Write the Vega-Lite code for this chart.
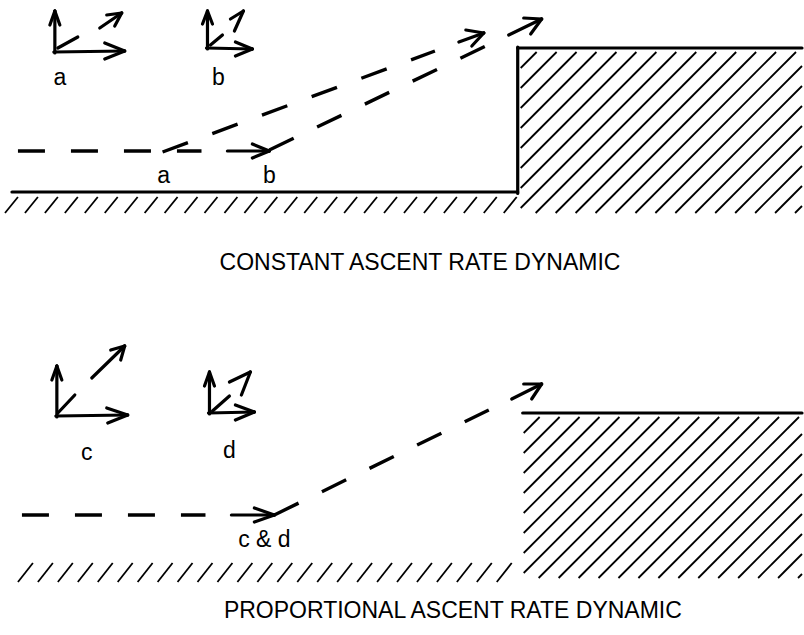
{
"$schema":"https://vega.github.io/schema/vega-lite/v6.json",
"width":804,"height":635,
"autosize":{"type":"fit","contains":"padding"},
"padding":0,
"background":"white",
"config":{"view":{"stroke":null}},
"datasets":{
"solid":[
{"x":12,"y":192,"x2":519,"y2":192},
{"x":519,"y":193.5,"x2":519,"y2":47},
{"x":519,"y":48,"x2":804,"y2":48},
{"x":524,"y":413,"x2":804,"y2":413},
{"x":55,"y":53,"x2":55,"y2":11},
{"x":50,"y":25,"x2":55,"y2":11},
{"x":60,"y":25,"x2":55,"y2":11},
{"x":54,"y":52,"x2":125,"y2":51},
{"x":105,"y":43,"x2":125,"y2":51},
{"x":105,"y":59,"x2":125,"y2":51},
{"x":58,"y":48,"x2":78,"y2":37},
{"x":100,"y":28,"x2":122,"y2":13},
{"x":107,"y":15,"x2":122,"y2":13},
{"x":115,"y":26,"x2":122,"y2":13},
{"x":208,"y":49,"x2":208,"y2":11},
{"x":203,"y":24,"x2":208,"y2":11},
{"x":213,"y":24,"x2":208,"y2":11},
{"x":207,"y":48,"x2":253,"y2":49},
{"x":236,"y":42,"x2":253,"y2":49},
{"x":236,"y":56,"x2":253,"y2":49},
{"x":211,"y":45,"x2":223,"y2":35},
{"x":235,"y":31,"x2":244,"y2":11},
{"x":231,"y":19,"x2":244,"y2":11},
{"x":57,"y":417,"x2":57,"y2":366},
{"x":52,"y":380,"x2":57,"y2":366},
{"x":62,"y":380,"x2":57,"y2":366},
{"x":56,"y":416,"x2":128,"y2":415},
{"x":107,"y":408,"x2":128,"y2":415},
{"x":108,"y":423,"x2":128,"y2":415},
{"x":58,"y":413,"x2":75,"y2":395},
{"x":92,"y":378,"x2":125,"y2":346},
{"x":111,"y":350,"x2":125,"y2":346},
{"x":121,"y":360,"x2":125,"y2":346},
{"x":210,"y":414,"x2":210,"y2":372},
{"x":205,"y":386,"x2":210,"y2":372},
{"x":215,"y":386,"x2":210,"y2":372},
{"x":209,"y":413,"x2":255,"y2":412},
{"x":236,"y":405,"x2":255,"y2":412},
{"x":236,"y":420,"x2":255,"y2":412},
{"x":213,"y":411,"x2":230,"y2":396},
{"x":242,"y":395,"x2":251,"y2":372},
{"x":230,"y":382,"x2":251,"y2":372},
{"x":228,"y":151,"x2":270,"y2":151},
{"x":253,"y":144,"x2":270,"y2":151},
{"x":253,"y":158,"x2":270,"y2":151},
{"x":232,"y":515,"x2":275,"y2":515},
{"x":255,"y":508,"x2":275,"y2":515},
{"x":255,"y":522,"x2":275,"y2":515},
{"x":460,"y":42,"x2":485,"y2":33},
{"x":467,"y":30,"x2":485,"y2":33},
{"x":473,"y":46,"x2":485,"y2":33},
{"x":510,"y":35,"x2":543,"y2":19},
{"x":525,"y":18,"x2":543,"y2":19},
{"x":532,"y":34,"x2":543,"y2":19},
{"x":513,"y":399,"x2":543,"y2":384},
{"x":525,"y":384,"x2":543,"y2":384},
{"x":533,"y":399,"x2":543,"y2":384}
],
"dashed":[
{"x":18,"y":151,"x2":202,"y2":151},
{"x":163,"y":152,"x2":436,"y2":51},
{"x":270,"y":150,"x2":487,"y2":46},
{"x":22,"y":515,"x2":206,"y2":515},
{"x":275,"y":515,"x2":490,"y2":410}
],
"hatch":[
{"x":5,"y":213,"x2":18,"y2":197},{"x":25,"y":213,"x2":38,"y2":197},{"x":45,"y":213,"x2":58,"y2":197},{"x":65,"y":213,"x2":78,"y2":197},
{"x":85,"y":213,"x2":98,"y2":197},{"x":105,"y":213,"x2":118,"y2":197},{"x":125,"y":213,"x2":138,"y2":197},{"x":145,"y":213,"x2":158,"y2":197},
{"x":165,"y":213,"x2":178,"y2":197},{"x":185,"y":213,"x2":198,"y2":197},{"x":205,"y":213,"x2":218,"y2":197},{"x":225,"y":213,"x2":238,"y2":197},
{"x":245,"y":213,"x2":258,"y2":197},{"x":265,"y":213,"x2":278,"y2":197},{"x":285,"y":213,"x2":298,"y2":197},{"x":305,"y":213,"x2":318,"y2":197},
{"x":325,"y":213,"x2":338,"y2":197},{"x":345,"y":213,"x2":358,"y2":197},{"x":365,"y":213,"x2":378,"y2":197},{"x":385,"y":213,"x2":398,"y2":197},
{"x":405,"y":213,"x2":418,"y2":197},{"x":425,"y":213,"x2":438,"y2":197},{"x":445,"y":213,"x2":458,"y2":197},{"x":465,"y":213,"x2":478,"y2":197},
{"x":485,"y":213,"x2":498,"y2":197},{"x":505,"y":213,"x2":518,"y2":197},
{"x":522,"y":68,"x2":538,"y2":52},{"x":522,"y":88,"x2":558,"y2":52},{"x":522,"y":108,"x2":578,"y2":52},{"x":522,"y":128,"x2":598,"y2":52},
{"x":522,"y":148,"x2":618,"y2":52},{"x":522,"y":168,"x2":638,"y2":52},{"x":522,"y":188,"x2":658,"y2":52},{"x":522,"y":208,"x2":678,"y2":52},
{"x":537,"y":213,"x2":698,"y2":52},{"x":557,"y":213,"x2":718,"y2":52},{"x":577,"y":213,"x2":738,"y2":52},{"x":597,"y":213,"x2":758,"y2":52},
{"x":617,"y":213,"x2":778,"y2":52},{"x":637,"y":213,"x2":798,"y2":52},{"x":657,"y":213,"x2":804,"y2":66},{"x":677,"y":213,"x2":804,"y2":86},
{"x":697,"y":213,"x2":804,"y2":106},{"x":717,"y":213,"x2":804,"y2":126},{"x":737,"y":213,"x2":804,"y2":146},{"x":757,"y":213,"x2":804,"y2":166},
{"x":777,"y":213,"x2":804,"y2":186},{"x":797,"y":213,"x2":804,"y2":206},
{"x":18,"y":582,"x2":33,"y2":563},{"x":38,"y":582,"x2":53,"y2":563},{"x":58,"y":582,"x2":73,"y2":563},{"x":78,"y":582,"x2":93,"y2":563},
{"x":98,"y":582,"x2":113,"y2":563},{"x":118,"y":582,"x2":133,"y2":563},{"x":138,"y":582,"x2":153,"y2":563},{"x":158,"y":582,"x2":173,"y2":563},
{"x":178,"y":582,"x2":193,"y2":563},{"x":198,"y":582,"x2":213,"y2":563},{"x":218,"y":582,"x2":233,"y2":563},{"x":238,"y":582,"x2":253,"y2":563},
{"x":258,"y":582,"x2":273,"y2":563},{"x":278,"y":582,"x2":293,"y2":563},{"x":298,"y":582,"x2":313,"y2":563},{"x":318,"y":582,"x2":333,"y2":563},
{"x":338,"y":582,"x2":353,"y2":563},{"x":358,"y":582,"x2":373,"y2":563},{"x":378,"y":582,"x2":393,"y2":563},{"x":398,"y":582,"x2":413,"y2":563},
{"x":418,"y":582,"x2":433,"y2":563},{"x":438,"y":582,"x2":453,"y2":563},{"x":458,"y":582,"x2":473,"y2":563},{"x":478,"y":582,"x2":493,"y2":563},
{"x":498,"y":582,"x2":513,"y2":563},
{"x":525,"y":433,"x2":541,"y2":417},{"x":525,"y":453,"x2":561,"y2":417},{"x":525,"y":473,"x2":581,"y2":417},{"x":525,"y":493,"x2":601,"y2":417},
{"x":525,"y":513,"x2":621,"y2":417},{"x":525,"y":533,"x2":641,"y2":417},{"x":525,"y":553,"x2":661,"y2":417},{"x":525,"y":573,"x2":681,"y2":417},
{"x":540,"y":578,"x2":701,"y2":417},{"x":560,"y":578,"x2":721,"y2":417},{"x":580,"y":578,"x2":741,"y2":417},{"x":600,"y":578,"x2":761,"y2":417},
{"x":620,"y":578,"x2":781,"y2":417},{"x":640,"y":578,"x2":801,"y2":417},{"x":660,"y":578,"x2":804,"y2":434},{"x":680,"y":578,"x2":804,"y2":454},
{"x":700,"y":578,"x2":804,"y2":474},{"x":720,"y":578,"x2":804,"y2":494},{"x":740,"y":578,"x2":804,"y2":514},{"x":760,"y":578,"x2":804,"y2":534},
{"x":780,"y":578,"x2":804,"y2":554},{"x":800,"y":578,"x2":804,"y2":574}
],
"labels":[
{"x":60,"y":85,"t":"a"},
{"x":219,"y":85,"t":"b"},
{"x":164,"y":183,"t":"a"},
{"x":270,"y":183,"t":"b"},
{"x":421,"y":270,"t":"CONSTANT ASCENT RATE DYNAMIC"},
{"x":87,"y":460,"t":"c"},
{"x":230,"y":458,"t":"d"},
{"x":265,"y":547,"t":"c & d"},
{"x":454,"y":618,"t":"PROPORTIONAL ASCENT RATE DYNAMIC"}
]
},
"layer":[
{"data":{"name":"hatch"},"mark":{"type":"rule","stroke":"black","strokeWidth":1.8},
 "encoding":{
  "x":{"field":"x","type":"quantitative","scale":{"domain":[0,804],"nice":false,"zero":false},"axis":null},
  "y":{"field":"y","type":"quantitative","scale":{"domain":[0,635],"reverse":true,"nice":false,"zero":false},"axis":null},
  "x2":{"field":"x2"},"y2":{"field":"y2"}}},
{"data":{"name":"dashed"},"mark":{"type":"rule","stroke":"black","strokeWidth":3.4,"strokeDash":[27,26]},
 "encoding":{
  "x":{"field":"x","type":"quantitative","scale":{"domain":[0,804],"nice":false,"zero":false},"axis":null},
  "y":{"field":"y","type":"quantitative","scale":{"domain":[0,635],"reverse":true,"nice":false,"zero":false},"axis":null},
  "x2":{"field":"x2"},"y2":{"field":"y2"}}},
{"data":{"name":"solid"},"mark":{"type":"rule","stroke":"black","strokeWidth":3.2,"strokeCap":"round"},
 "encoding":{
  "x":{"field":"x","type":"quantitative","scale":{"domain":[0,804],"nice":false,"zero":false},"axis":null},
  "y":{"field":"y","type":"quantitative","scale":{"domain":[0,635],"reverse":true,"nice":false,"zero":false},"axis":null},
  "x2":{"field":"x2"},"y2":{"field":"y2"}}},
{"data":{"name":"labels"},"mark":{"type":"text","font":"Liberation Sans","fontSize":23,"align":"center","baseline":"alphabetic","color":"black"},
 "encoding":{
  "x":{"field":"x","type":"quantitative","scale":{"domain":[0,804],"nice":false,"zero":false},"axis":null},
  "y":{"field":"y","type":"quantitative","scale":{"domain":[0,635],"reverse":true,"nice":false,"zero":false},"axis":null},
  "text":{"field":"t"}}}
]
}
